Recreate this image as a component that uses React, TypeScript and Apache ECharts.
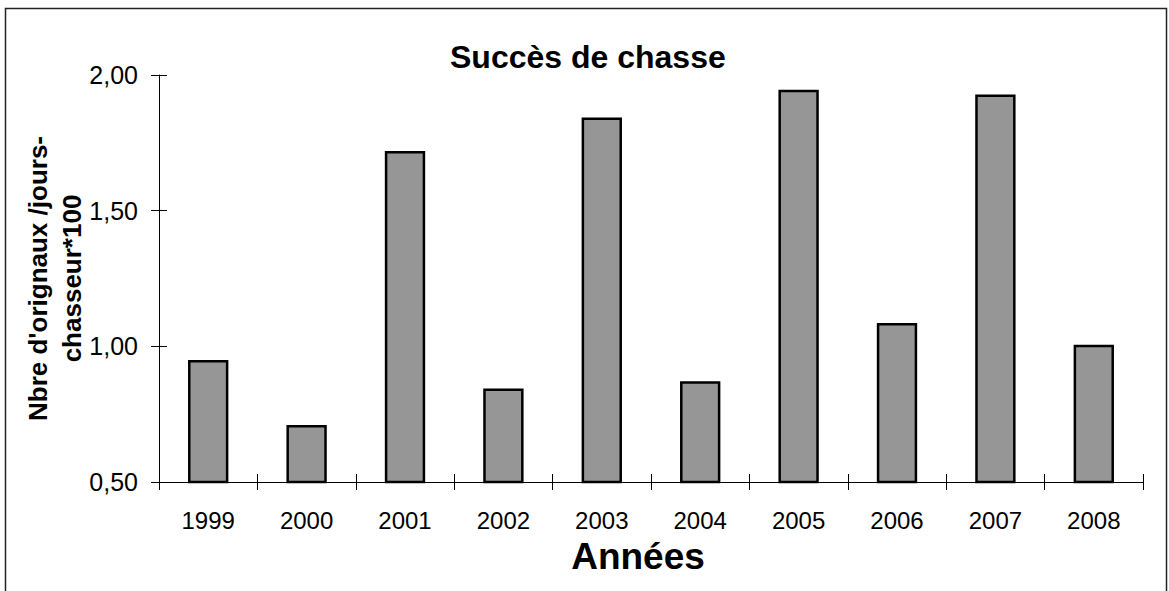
import React, { useEffect, useRef } from "react";
import * as echarts from "echarts";

const years = ["1999", "2000", "2001", "2002", "2003", "2004", "2005", "2006", "2007", "2008"];
const success = [0.95, 0.71, 1.72, 0.845, 1.843, 0.871, 1.946, 1.086, 1.928, 1.006];
const yMin = 0.5;
const yMax = 2.0;
const yStep = 0.5;

const FONT = "'Liberation Sans', Arial, sans-serif";

export default function App() {
  const ref = useRef<HTMLDivElement>(null);
  useEffect(() => {
    if (!ref.current) return;
    const chart = echarts.init(ref.current, null, { renderer: "svg" });
    const fmt = (v: number) => v.toFixed(2).replace(".", ",");
    chart.setOption({
      animation: false,
      backgroundColor: "#ffffff",
      textStyle: { fontFamily: FONT },
      title: {
        text: "Succès de chasse",
        left: 450,
        top: 41,
        padding: 0,
        textStyle: { fontFamily: FONT, fontSize: 32, fontWeight: "bold", color: "#000" },
      },
      graphic: [
        {
          type: "rect",
          shape: { x: 5.5, y: 8.5, width: 1161, height: 600 },
          style: { fill: "none", stroke: "#222", lineWidth: 1.5 },
          silent: true,
        },
      ],
      grid: { left: 159, right: 26, top: 75, bottom: 109 },
      xAxis: [
        {
          type: "category",
          data: years,
          position: "bottom",
          axisLine: { show: true, lineStyle: { color: "#000", width: 1 } },
          axisTick: { show: false },
          axisLabel: { fontFamily: FONT, fontSize: 24, color: "#000", margin: 26 },
          name: "Années",
          nameLocation: "middle",
          nameGap: 56,
          nameMoveOverlap: false,
          nameTextStyle: {
            fontFamily: FONT,
            fontSize: 37,
            fontWeight: "bold",
            color: "#000",
            padding: [0, 26, 0, 0],
          },
          splitLine: { show: false },
        },
        {
          type: "category",
          data: years,
          position: "bottom",
          offset: -8,
          axisLine: { show: false },
          axisTick: { show: true, length: 16, lineStyle: { color: "#000" } },
          axisLabel: { show: false },
          splitLine: { show: false },
        },
      ],
      yAxis: [
        {
          type: "value",
          min: yMin,
          max: yMax,
          interval: yStep,
          position: "left",
          axisLine: { show: true, lineStyle: { color: "#000", width: 1 } },
          axisTick: { show: false },
          axisLabel: { fontFamily: FONT, fontSize: 25, color: "#000", margin: 21, formatter: fmt },
          splitLine: { show: false },
          name: "Nbre d'orignaux /jours-\nchasseur*100",
          nameLocation: "middle",
          nameGap: 70,
          nameMoveOverlap: false,
          nameTextStyle: {
            fontFamily: FONT,
            fontSize: 26,
            fontWeight: "bold",
            color: "#000",
            lineHeight: 34,
            align: "center",
          },
        },
        {
          type: "value",
          min: yMin,
          max: yMax,
          interval: yStep,
          position: "left",
          offset: -8,
          axisLine: { show: false },
          axisTick: { show: true, length: 16, lineStyle: { color: "#000" } },
          axisLabel: { show: false },
          splitLine: { show: false },
        },
      ],
      series: [
        {
          type: "bar",
          xAxisIndex: 0,
          yAxisIndex: 0,
          data: success,
          barWidth: "41%",
          itemStyle: { color: "#969696", borderColor: "#000", borderWidth: 2.5 },
        },
      ],
    });
    return () => chart.dispose();
  }, []);
  return (
    <div
      ref={ref}
      style={{ position: "fixed", left: 0, top: 0, width: 1169, height: 591, background: "#fff" }}
    />
  );
}
